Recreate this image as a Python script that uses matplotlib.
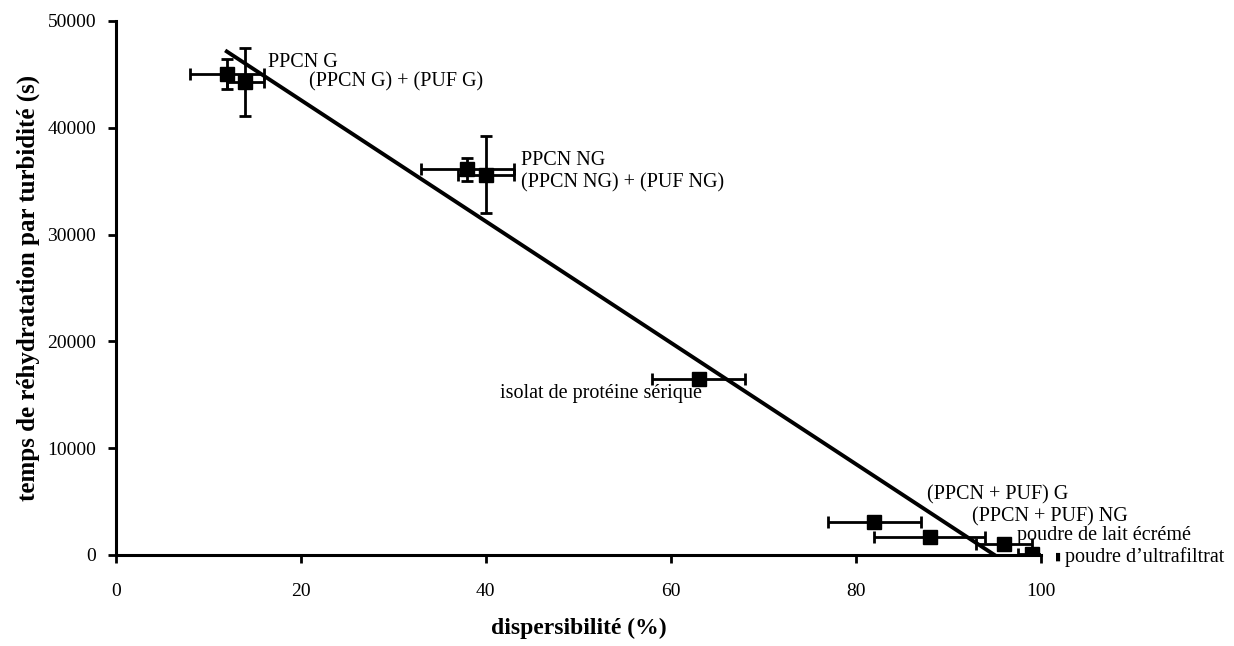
import numpy as np
import matplotlib
matplotlib.use("Agg")
import matplotlib.pyplot as plt

# ---- data ----
labels = ["PPCN G", "(PPCN G) + (PUF G)", "PPCN NG", "(PPCN NG) + (PUF NG)",
          "isolat de protéine sérique", "(PPCN + PUF) G", "(PPCN + PUF) NG",
          "poudre de lait écrémé", "poudre d\u2019ultrafiltrat"]
dispersibilite = [12, 14, 38, 40, 63, 82, 88, 96, 99]
temps = [45000, 44300, 36100, 35600, 16500, 3100, 1700, 1000, 100]
x_err = [4, 2, 5, 3, 5, 5, 6, 3, 1.5]
y_err = [1400, 3200, 1100, 3600, 200, 0, 0, 200, 0]
label_x = [16.5, 20.9, 43.8, 43.8, 41.5, 87.7, 92.5, 97.4, 102.6]
label_y = [46100, 44300, 36900, 34850, 15140, 5620, 3590, 1810, -160]
x_ticks = [0, 20, 40, 60, 80, 100]
y_ticks = [0, 10000, 20000, 30000, 40000, 50000]

plt.rcParams['font.family'] = ['Liberation Serif', 'DejaVu Serif']

fig = plt.figure(figsize=(12.34, 6.46), dpi=100)
ax = fig.add_axes([0.0938, 0.1409, 0.8436 - 0.0938, 0.9675 - 0.1409])

# trendline (least squares)
slope, intercept = np.polyfit(dispersibilite, temps, 1)
xl = np.array([min(dispersibilite), max(dispersibilite)])
ax.plot(xl, intercept + slope * xl, color='black', lw=2.8, zorder=2)

ax.errorbar(dispersibilite, temps, xerr=x_err, yerr=y_err, fmt='s', color='black',
            ms=9.5, ecolor='black', elinewidth=2.0, capsize=4, capthick=2.0, zorder=3)

for lab, lx, ly in zip(labels, label_x, label_y):
    ax.text(lx, ly, lab, fontsize=14.5, va='center', ha='left', clip_on=False)
ax.text(101.8, -160, "\u25AE", fontsize=8, va='center', ha='center',
        family=['DejaVu Sans'], clip_on=False)

ax.set_xlim(0, 100)
ax.set_ylim(0, 50000)
ax.set_xticks(x_ticks)
ax.set_yticks(y_ticks)
ax.tick_params(axis='both', direction='out', length=6, width=2, labelsize=14)
ax.tick_params(axis='x', pad=14)
ax.tick_params(axis='y', pad=8)
for s in ['top', 'right']:
    ax.spines[s].set_visible(False)
for s in ['left', 'bottom']:
    ax.spines[s].set_linewidth(2.2)

ax.set_xlabel("dispersibilité (%)", fontsize=17, fontweight='bold', labelpad=13)
ax.set_ylabel("temps de réhydratation par turbidité (s)", fontsize=18,
              fontweight='bold', labelpad=5)

fig.savefig("out.png", dpi=100)
